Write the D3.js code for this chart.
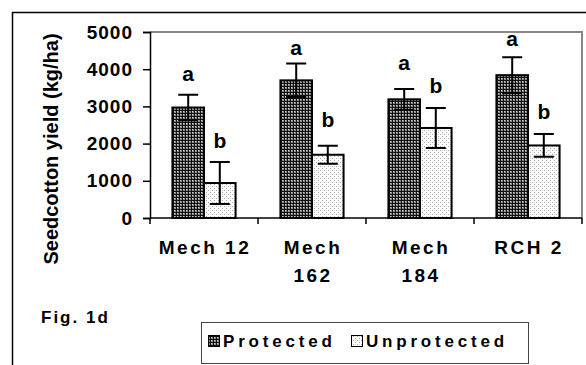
<!DOCTYPE html>
<html>
<head>
<meta charset="utf-8">
<script src="https://cdn.jsdelivr.net/npm/d3@7"></script>
<style>
  body { margin: 0; background: #fff; }
  text { font-family: "Liberation Sans", Arial, sans-serif; font-weight: bold; fill: #000; }
</style>
</head>
<body>
<div class="chart"></div>
<script>
// data
var categories = ['Mech 12', 'Mech 162', 'Mech 184', 'RCH 2'];
var categoryLines = [['Mech 12'], ['Mech', '162'], ['Mech', '184'], ['RCH 2']];
var series = ['Protected', 'Unprotected'];
var protectedYield = [2970, 3700, 3190, 3840];
var unprotectedYield = [940, 1700, 2420, 1950];
var protectedErr = [345, 450, 280, 480];
var unprotectedErr = [565, 245, 540, 305];
var protectedLetters = ['a', 'a', 'a', 'a'];
var unprotectedLetters = ['b', 'b', 'b', 'b'];
// where the letters sit, in kg/ha
var protectedLetterAt = [3675, 4390, 3970, 4620];
var unprotectedLetterAt = [1880, 2450, 3360, 2670];
var yTicks = [0, 1000, 2000, 3000, 4000, 5000];

var width = 586, height = 365;
var margin = {left: 150, right: 4, top: 32, bottom: 147};

var svg = d3.select('.chart').append('svg')
            .attr('width', width)
            .attr('height', height);

// fill patterns
var defs = svg.append('defs');
var pDark = defs.append('pattern').attr('id', 'dark')
                .attr('width', 3).attr('height', 3)
                .attr('patternUnits', 'userSpaceOnUse');
pDark.append('rect').attr('width', 3).attr('height', 3).attr('fill', '#111');
pDark.append('rect').attr('width', 2).attr('height', 2).attr('fill', '#8c8c8c');
pDark.append('rect').attr('width', 1).attr('height', 1).attr('fill', '#d0d0d0');

var pLight = defs.append('pattern').attr('id', 'light')
                 .attr('width', 4).attr('height', 4)
                 .attr('patternUnits', 'userSpaceOnUse');
pLight.append('rect').attr('width', 4).attr('height', 4).attr('fill', '#fff');
pLight.append('rect').attr('x', 0).attr('y', 0).attr('width', 1).attr('height', 1).attr('fill', '#aaa');
pLight.append('rect').attr('x', 2).attr('y', 2).attr('width', 1).attr('height', 1).attr('fill', '#aaa');
pLight.append('rect').attr('x', 0).attr('y', 2).attr('width', 1).attr('height', 1).attr('fill', '#ddd');

var fills = {Protected: 'url(#dark)', Unprotected: 'url(#light)'};

// outer frame (runs off the page on right and bottom)
svg.append('rect')
   .attr('x', 12.5).attr('y', 12.5)
   .attr('width', 700).attr('height', 500)
   .attr('fill', 'none').attr('stroke', '#000').attr('stroke-width', 1.5);

var x0 = d3.scaleBand()
           .domain(categories)
           .range([margin.left, width - margin.right]);

var x1 = d3.scaleBand()
           .domain(series)
           .range([0, x0.bandwidth()])
           .paddingOuter(0.71);

var y = d3.scaleLinear()
          .domain([0, 5000])
          .range([height - margin.bottom, margin.top]);

// plot frame, grey top and right
svg.append('path')
   .attr('d', 'M' + x0.range()[0] + ',' + y(5000) + 'H' + x0.range()[1] + 'V' + y(0))
   .attr('fill', 'none').attr('stroke', '#888').attr('stroke-width', 2);

// bars
var rows = categories.map(function(c, i) {
  return [
    {cat: c, s: 'Protected', v: protectedYield[i], e: protectedErr[i], l: protectedLetters[i], ly: protectedLetterAt[i]},
    {cat: c, s: 'Unprotected', v: unprotectedYield[i], e: unprotectedErr[i], l: unprotectedLetters[i], ly: unprotectedLetterAt[i]}
  ];
});

var groups = svg.selectAll('g.cat')
                .data(rows)
                .enter()
                .append('g')
                .attr('class', 'cat')
                .attr('transform', function(d) { return 'translate(' + x0(d[0].cat) + ',0)'; });

var items = groups.selectAll('g.item')
                  .data(function(d) { return d; })
                  .enter()
                  .append('g');

items.append('rect')
     .attr('x', function(d) { return x1(d.s); })
     .attr('y', function(d) { return y(d.v); })
     .attr('width', x1.bandwidth())
     .attr('height', function(d) { return y(0) - y(d.v); })
     .attr('fill', function(d) { return fills[d.s]; })
     .attr('stroke', '#000')
     .attr('stroke-width', 2);

// error bars
var cap = 10;
items.append('path')
     .attr('d', function(d) {
       var cx = x1(d.s) + x1.bandwidth() / 2;
       var top = y(d.v + d.e), bot = y(d.v - d.e);
       return 'M' + cx + ',' + top + 'V' + bot +
              'M' + (cx - cap) + ',' + top + 'H' + (cx + cap) +
              'M' + (cx - cap) + ',' + bot + 'H' + (cx + cap);
     })
     .attr('fill', 'none')
     .attr('stroke', '#000')
     .attr('stroke-width', 2);

// a / b letters
items.append('text')
     .attr('x', function(d) { return x1(d.s) + x1.bandwidth() / 2; })
     .attr('y', function(d) { return y(d.ly); })
     .attr('text-anchor', 'middle')
     .style('font-size', '21px')
     .text(function(d) { return d.l; });

// y axis
var yAxis = svg.append('g')
               .attr('transform', 'translate(' + margin.left + ',0)')
               .call(d3.axisLeft(y).tickValues(yTicks).tickSize(7).tickPadding(10).tickFormat(d3.format('d')));
yAxis.selectAll('path, line').attr('stroke', '#000').attr('stroke-width', 1.5);
yAxis.selectAll('text')
     .style('font-size', '19px')
     .style('letter-spacing', '1px')
     .style('font-family', '"Liberation Sans", Arial, sans-serif');

// x axis with ticks between the groups
var xAxis = svg.append('g')
               .attr('transform', 'translate(0,' + y(0) + ')');
xAxis.append('line')
     .attr('x1', x0.range()[0]).attr('x2', x0.range()[1])
     .attr('stroke', '#000').attr('stroke-width', 1.5);
var edges = categories.map(function(c) { return x0(c); }).concat([x0.range()[1]]);
xAxis.selectAll('line.tick')
     .data(edges)
     .enter()
     .append('line')
     .attr('x1', function(d) { return d; })
     .attr('x2', function(d) { return d; })
     .attr('y1', 0).attr('y2', 6)
     .attr('stroke', '#000').attr('stroke-width', 1.5);

var catText = xAxis.selectAll('text.cat')
                   .data(categoryLines)
                   .enter()
                   .append('text')
                   .attr('text-anchor', 'middle')
                   .style('font-size', '19px')
                   .style('letter-spacing', '2.5px');
catText.selectAll('tspan')
       .data(function(d, i) { return d.map(function(t) { return {t: t, c: categories[i]}; }); })
       .enter()
       .append('tspan')
       .attr('x', function(d) { return x0(d.c) + x0.bandwidth() / 2 + 1; })
       .attr('y', function(d, j) { return 36 + j * 28; })
       .text(function(d) { return d.t; });

// y title
svg.append('text')
   .attr('transform', 'translate(58,' + ((y(0) + y(5000)) / 2 + 24) + ') rotate(-90)')
   .attr('text-anchor', 'middle')
   .style('font-size', '20px')
   .text('Seedcotton yield (kg/ha)');

// figure label
svg.append('text')
   .attr('x', 41)
   .attr('y', 323)
   .style('font-size', '17px')
   .style('letter-spacing', '2px')
   .text('Fig. 1d');

// legend
var legend = svg.append('g').attr('transform', 'translate(201,322)');
legend.append('rect')
      .attr('x', 0.5).attr('y', 0.5)
      .attr('width', 327).attr('height', 41)
      .attr('fill', '#fff').attr('stroke', '#444').attr('stroke-width', 1);
var legendX = [7, 150];
var li = legend.selectAll('g.li')
               .data(series)
               .enter()
               .append('g')
               .attr('transform', function(d, i) { return 'translate(' + legendX[i] + ',0)'; });
li.append('rect')
  .attr('x', 0.5).attr('y', 13.5)
  .attr('width', 11).attr('height', 11)
  .attr('fill', function(d) { return fills[d]; })
  .attr('stroke', '#000').attr('stroke-width', 1);
li.append('text')
  .attr('x', 15)
  .attr('y', 25)
  .style('font-size', '17px')
  .style('letter-spacing', '3.8px')
  .text(function(d) { return d; });
</script>
</body>
</html>
